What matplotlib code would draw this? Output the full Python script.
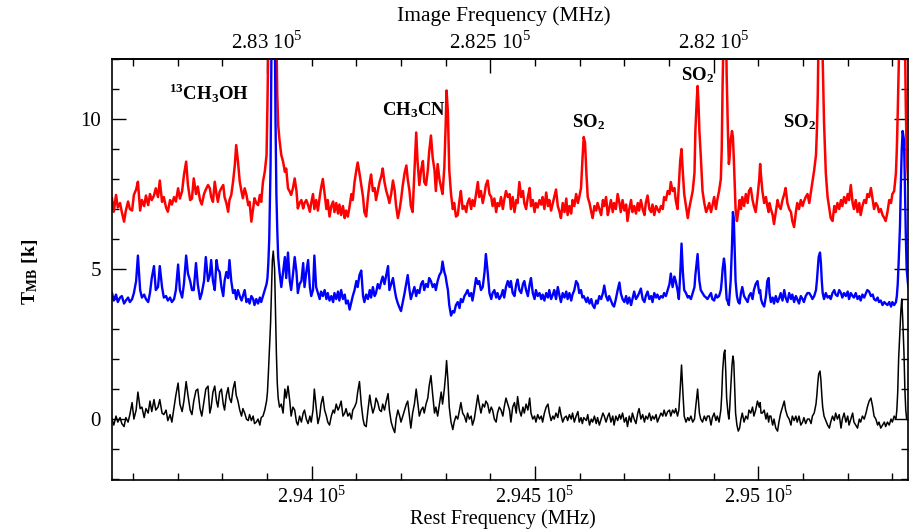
import numpy as np
import matplotlib.pyplot as plt
from matplotlib.ticker import MultipleLocator

plt.rcParams['font.family'] = 'Liberation Serif'
plt.rcParams['mathtext.fontset'] = 'custom'
plt.rcParams['mathtext.rm'] = 'Liberation Serif'
plt.rcParams['mathtext.bf'] = 'Liberation Serif:bold'

# rest frequency of each channel (MHz), shared by the three spectra
freq_mhz = [
    293553, 293557, 293562, 293566, 293571, 293575, 293580, 293584, 293589, 293593,
    293598, 293602, 293607, 293611, 293616, 293620, 293625, 293629, 293634, 293638,
    293642, 293647, 293651, 293656, 293660, 293665, 293669, 293674, 293678, 293683,
    293687, 293692, 293696, 293701, 293705, 293710, 293714, 293719, 293723, 293728,
    293732, 293736, 293741, 293745, 293750, 293754, 293759, 293763, 293768,
    293772, 293775, 293779, 293783, 293787, 293790, 293794, 293798, 293802, 293805,
    293809, 293813, 293816, 293820, 293824, 293828, 293831, 293835, 293839, 293843,
    293846, 293850, 293854, 293858, 293861, 293865, 293869, 293872, 293876, 293880,
    293884, 293887, 293891, 293895, 293899,
    293901, 293903, 293905, 293908, 293910, 293912, 293914, 293917, 293919, 293921,
    293923, 293925, 293928,
    293932, 293936, 293940, 293943, 293947, 293951, 293954, 293958, 293962, 293966,
    293969, 293973, 293977, 293981, 293984, 293988, 293992, 293996,
    293999, 294003, 294006, 294010, 294014, 294018, 294021, 294025, 294029, 294033,
    294036, 294040, 294044, 294048, 294051, 294055, 294059, 294062, 294066, 294070,
    294074, 294077, 294081, 294085, 294089, 294092, 294096, 294100, 294103, 294107,
    294111, 294115, 294118, 294122, 294126, 294130, 294133, 294137, 294141, 294144,
    294148, 294152, 294156, 294159, 294163, 294167, 294171, 294174, 294178, 294182,
    294186, 294189, 294193, 294197, 294200, 294204, 294208, 294212, 294215,
    294219, 294222, 294226, 294230, 294234, 294237, 294241, 294245, 294249, 294252,
    294256, 294260, 294263, 294267, 294271, 294275, 294278, 294282, 294286, 294290,
    294293, 294297, 294300, 294302, 294305, 294308, 294312, 294316, 294319, 294323,
    294327, 294331, 294334, 294338, 294342, 294346, 294349, 294353, 294357, 294360,
    294364, 294368, 294372, 294375, 294379, 294383, 294387, 294390, 294394, 294398,
    294402, 294405, 294409, 294413, 294416, 294420, 294424, 294428, 294431, 294435,
    294439,
    294443, 294446, 294450, 294454, 294458, 294461, 294465, 294469, 294473, 294476,
    294480, 294484, 294488, 294491, 294495, 294499, 294502, 294506, 294510, 294514,
    294517, 294521, 294525, 294529, 294532, 294536, 294540, 294543, 294547, 294551,
    294555, 294558, 294562, 294566, 294570, 294573, 294577, 294581, 294584, 294588,
    294592, 294596, 294599, 294603, 294606, 294609, 294612, 294615, 294618, 294622,
    294626, 294629, 294633, 294637, 294640, 294644, 294648, 294652, 294655, 294659,
    294663,
    294666, 294670, 294674, 294677, 294681, 294685, 294689, 294692, 294696, 294700,
    294704, 294707, 294711, 294715, 294718, 294722, 294726, 294730, 294733, 294737,
    294741, 294745, 294748, 294752, 294756, 294760, 294763, 294767, 294771, 294774,
    294778, 294782, 294786, 294789, 294793, 294797, 294801, 294804, 294808, 294812,
    294815, 294819, 294822, 294825, 294828, 294831, 294834, 294838, 294842, 294845,
    294849, 294853, 294857, 294859, 294862, 294864, 294866, 294868, 294871, 294875,
    294879, 294883, 294886,
    294890, 294894, 294897, 294901, 294905, 294908, 294912, 294916, 294918, 294920,
    294923, 294925, 294927, 294929, 294932, 294934, 294936, 294938, 294941, 294943,
    294945, 294947, 294949, 294952, 294955, 294958, 294961, 294964, 294968, 294972,
    294976, 294979, 294983, 294987, 294990, 294994, 294998, 295002, 295004, 295006,
    295009, 295013, 295017, 295020, 295023, 295025, 295028, 295032, 295035, 295039,
    295043, 295046, 295050, 295054, 295058, 295061, 295065, 295069, 295073, 295076,
    295080, 295084, 295087, 295091, 295095, 295099, 295102, 295106, 295110,
    295114, 295118, 295121, 295125, 295129, 295131, 295133, 295135, 295138, 295140,
    295142, 295144, 295147, 295151, 295155, 295159, 295162, 295166, 295170, 295173,
    295177, 295181, 295185, 295188, 295192, 295196, 295200, 295203, 295207, 295211,
    295214, 295218, 295222, 295226, 295229, 295233, 295237, 295241, 295244, 295248,
    295252, 295256, 295259, 295263, 295267, 295270, 295274, 295278, 295282, 295285,
    295289, 295293, 295297, 295300, 295304, 295308, 295310, 295312, 295314, 295317,
    295319, 295321, 295323, 295326, 295328, 295330, 295332, 295335, 295337,
]

# main-beam temperatures (K), offset spectra
tmb_red = [
    7.36, 6.91, 7.47, 7.05, 7.2, 6.9, 6.58, 6.95, 7.25, 7.0,
    6.95, 7.47, 7.65, 7.91, 6.95, 7.3, 7.1, 7.45, 7.13, 7.5,
    7.3, 7.45, 7.69, 7.4, 7.95, 7.24, 7.4, 7.05, 6.91, 7.3,
    7.15, 7.4, 7.25, 7.69, 7.35, 7.6, 8.13, 8.58, 7.8, 7.3,
    7.35, 8.02, 7.5, 7.75, 7.3, 7.15, 7.5, 7.65, 7.8,
    7.69, 7.4, 7.24, 7.91, 7.5, 7.24, 7.58, 7.7, 7.8, 7.4,
    7.2, 6.91, 7.3, 7.47, 7.91, 8.47, 9.13, 8.58, 7.91, 7.58,
    7.36, 7.69, 7.47, 7.13, 7.24, 6.58, 7.02, 7.36, 7.2, 7.13,
    7.47, 7.24, 7.91, 8.24, 8.8,
    10.5, 12.5, 15, 18, 22, 25, 25, 23, 19, 12.8,
    10.8, 9.8, 9.3,
    8.8, 8.58, 8.24, 8.35, 7.69, 7.58, 7.47, 7.69, 8.02, 7.6,
    7.02, 7.2, 7.3, 7.02, 7.2, 7.3, 7.13, 6.91,
    7.2, 7.5, 7.0, 7.3, 6.95, 7.4, 7.7, 8.0, 7.5, 7.0,
    7.3, 6.75, 7.1, 7.25, 6.9, 7.2, 6.85, 7.15, 6.8, 7.1,
    6.7, 6.95, 6.75, 7.1, 7.5, 7.3, 7.9, 8.3, 8.55, 8.2,
    7.8, 7.4, 6.9, 6.75, 7.4, 7.9, 8.15, 7.6, 7.7, 7.3,
    7.6, 7.9, 8.1, 8.35, 7.9, 7.6, 7.4, 7.2, 7.5, 7.95,
    7.6, 7.1, 6.7, 7.0, 7.3, 7.8, 8.2, 8.45, 8.0,
    7.6, 7.1, 6.9, 8.2, 9.55, 8.6, 7.8, 8.3, 8.6, 7.9,
    7.8, 8.3, 8.9, 9.45, 8.7, 8.3, 7.6, 8.5, 8.0, 7.7,
    7.5, 8.4, 9.8, 10.95, 10.2, 8.3, 7.5, 7.0, 7.2, 6.75,
    6.8, 7.3, 7.6, 7.0, 7.1, 6.9, 7.2, 7.35, 7.0, 7.3,
    7.1, 7.5, 7.9, 7.4, 7.6, 7.2, 7.5, 7.8, 7.95, 7.5,
    7.4, 7.1, 7.35, 6.9, 7.2, 7.1, 7.4, 7.0, 7.3, 7.6,
    7.4,
    7.5, 7.0, 7.4, 6.9, 7.3, 7.2, 7.9, 7.4, 7.6, 7.2,
    7.0, 7.4, 7.7, 7.1, 7.3, 6.9, 7.2, 7.05, 7.3, 7.15,
    7.4, 7.0, 7.55, 7.1, 7.3, 6.95, 7.2, 7.4, 7.65, 7.1,
    6.9, 6.7, 7.2, 6.9, 7.35, 6.8, 7.1, 6.85, 7.3, 7.1,
    7.5, 7.2, 7.4, 7.7, 8.6, 9.4, 9.2, 8.2, 7.4, 7.2,
    6.9, 6.7, 7.1, 6.95, 7.2, 7.0, 6.8, 7.3, 7.1, 7.4,
    6.8,
    7.0, 7.3, 6.9, 7.2, 7.0, 7.5, 7.2, 6.9, 7.3, 6.95,
    7.15, 6.6, 7.0, 7.3, 6.9, 7.1, 6.85, 7.2, 6.95, 7.3,
    7.0, 6.8, 7.2, 7.45, 7.0, 6.9, 7.15, 6.8, 7.1, 7.0,
    6.9, 7.1, 7.0, 7.4, 7.3, 7.6, 7.5, 7.9, 7.6, 7.7,
    7.3, 7.0, 7.8, 8.6, 9.0, 8.2, 7.5, 7.1, 6.7, 7.0,
    7.3, 7.6, 8.2, 9.6, 10.6, 11.1, 10.5, 9.6, 8.8, 7.6,
    7.2, 6.9, 7.0,
    7.2, 6.9, 7.1, 7.4, 7.0, 7.3, 7.6, 8.0, 9.0, 11.2,
    13.5, 16, 14, 11.5, 9.5, 8.5, 8.8, 9.3, 9.6, 9.4,
    8.7, 7.8, 7.0, 6.6, 6.9, 7.3, 7.0, 7.4, 7.1, 7.5,
    7.2, 7.6, 7.7, 7.3, 7.1, 6.9, 7.4, 8.0, 8.5, 8.1,
    7.6, 7.2, 7.4, 7.1, 6.9, 7.2, 7.0, 6.8, 6.5, 6.9,
    7.3, 7.1, 7.0, 7.3, 7.5, 7.7, 7.2, 7.0, 6.9, 6.6,
    6.4, 6.9, 7.2, 7.0, 7.3, 7.1, 7.25, 7.4, 7.5,
    7.2, 7.6, 7.9, 8.3, 8.8, 9.6, 10.8, 13, 17, 18,
    15, 12, 9.9, 8.2, 7.4, 7.0, 6.7, 6.6, 7.1, 6.9,
    7.2, 7.0, 7.3, 7.1, 7.4, 7.2, 7.5, 7.3, 7.8, 7.2,
    7.0, 7.3, 6.9, 7.2, 6.8, 7.1, 7.3, 7.2, 7.5, 7.4,
    7.7, 7.3, 7.0, 7.2, 7.1, 6.9, 7.0, 6.8, 6.7, 6.6,
    6.9, 7.3, 7.2, 7.5, 7.6, 8.2, 9.0, 10.2, 11.6, 13.5,
    16, 19, 20, 17, 13, 10.5, 8.8, 8.0, 7.8,
]

tmb_blue = [
    4.2, 3.95, 4.15, 3.9, 4.05, 4.1, 3.85, 3.95, 4.05, 3.9,
    4.0, 4.2, 4.6, 5.45, 4.3, 4.05, 4.15, 4.0, 3.9, 4.2,
    4.7, 5.1, 4.3, 4.4, 5.1, 4.4, 4.05, 4.1, 3.95, 4.05,
    3.9, 4.0, 4.3, 5.15, 4.3, 4.05, 4.5, 5.45, 4.85, 4.6,
    4.3, 4.3, 5.2, 4.5, 4.0, 4.2, 4.6, 5.4, 4.6,
    4.8, 5.3, 4.6, 4.3, 5.3, 5.0, 4.9, 4.4, 4.1, 4.6,
    4.9, 4.7, 5.3, 4.6, 4.2, 4.3, 4.0, 4.3, 4.1, 3.95,
    4.1, 4.3, 3.9, 4.0, 3.85, 4.1, 4.0, 3.8, 4.0, 3.85,
    4.05, 3.9, 4.1, 4.3, 4.5,
    4.7, 5.2, 6.0, 8.5, 12.5, 16, 18, 14, 10, 7.5,
    6.3, 5.4, 4.9,
    4.4, 4.9, 5.4, 4.7, 5.55, 4.6, 4.3, 4.8, 5.4, 4.9,
    4.2, 4.5, 4.6, 5.2, 4.4, 4.9, 5.3, 4.4,
    4.1, 4.3, 5.45, 4.4, 4.2, 4.0, 4.25, 4.1, 4.3, 4.0,
    4.2, 3.95, 4.1, 3.9, 4.2, 4.0, 4.25, 3.95, 4.3, 4.0,
    4.15, 3.85, 3.95, 3.65, 3.9, 4.1, 4.3, 4.6, 4.4, 4.8,
    4.95, 4.1, 3.9, 4.15, 4.0, 4.3, 4.05, 4.4, 4.1, 4.2,
    4.5, 4.35, 4.6, 4.75, 4.5, 4.8, 5.1, 4.3, 4.5, 4.7,
    4.3, 4.05, 3.85, 3.7, 3.6, 3.9, 4.2, 4.55, 4.8,
    4.3, 4.0, 4.2, 4.4, 4.1, 4.3, 4.2, 4.5, 4.6, 4.3,
    4.5, 4.4, 4.7, 4.6, 4.4, 4.5, 4.3, 4.6, 4.8, 4.9,
    5.25, 4.9, 4.75, 4.55, 4.3, 3.8, 3.45, 3.6, 3.55, 3.8,
    3.9, 3.7, 4.0, 3.9, 4.1, 4.2, 4.3, 4.1, 4.2, 3.95,
    4.3, 4.7, 4.5, 4.6, 4.3, 4.4, 4.9, 5.5, 4.9, 4.2,
    4.0, 4.2, 4.3, 4.05, 4.2, 4.0, 4.1, 4.3, 4.05, 4.4,
    4.6,
    4.4, 4.6, 4.2, 4.1, 4.5, 4.65, 4.3, 4.2, 4.5, 4.6,
    4.3, 4.1, 4.5, 4.7, 4.2, 4.0, 4.3, 4.1, 4.2, 4.0,
    4.15, 3.95, 4.2, 4.05, 4.3, 4.0, 4.15, 4.3, 4.0, 4.4,
    4.1, 3.9, 4.2, 4.05, 4.25, 4.0, 4.2, 3.95, 4.15, 4.3,
    4.6, 4.5, 4.2, 4.3, 4.05, 4.1, 4.0, 3.9, 4.05, 3.85,
    4.0, 3.8, 3.7, 3.95, 3.85, 4.1, 4.0, 4.2, 4.45, 4.1,
    3.95,
    4.1, 3.95, 3.8, 3.75, 4.0, 4.3, 4.55, 4.2, 4.0, 3.9,
    4.1, 3.85, 4.05, 3.8, 4.0, 4.25, 4.0, 4.1, 4.2, 4.35,
    4.0, 3.9, 4.1, 4.25, 4.0, 4.1, 3.9, 4.2, 4.05, 4.15,
    4.0, 4.1, 4.05, 4.2, 4.1, 4.3, 4.5, 4.85, 4.4, 4.75,
    4.6, 4.3, 4.0, 4.8, 5.85, 4.9, 4.3, 4.2, 4.05, 4.1,
    4.0, 4.2, 4.4, 4.8, 5.2, 5.5, 5.0, 4.6, 4.3, 4.2,
    4.1, 4.05, 4.0,
    4.1, 4.2, 4.0, 3.95, 4.15, 4.05, 4.1, 4.3, 4.6, 5.0,
    5.35, 5.1, 4.5, 4.0, 3.9, 3.8, 4.2, 4.6, 5.8, 6.9,
    6.7, 5.6, 4.6, 4.1, 3.9, 3.85, 4.2, 4.4, 4.1, 4.0,
    3.9, 4.1, 4.2, 4.0, 4.3, 4.5, 4.6, 4.2, 4.3, 4.0,
    3.85, 3.75, 4.1, 4.6, 4.7, 4.2, 3.9, 4.05, 3.85, 4.1,
    3.9, 4.0, 4.2, 3.95, 4.3, 4.05, 3.9, 4.2, 4.0, 4.15,
    3.9, 4.1, 4.0, 3.85, 4.1, 4.0, 3.9, 4.1, 4.2,
    4.2, 4.1, 4.0, 4.1, 4.3, 4.6, 5.0, 5.4, 5.55, 5.2,
    4.6, 4.2, 4.0, 4.2, 4.05, 4.1, 4.0, 4.2, 4.3, 4.15,
    4.1, 4.3, 4.2, 4.05, 4.2, 4.1, 4.25, 4.0, 4.2, 4.1,
    4.05, 4.2, 4.0, 4.1, 3.95, 4.15, 4.05, 4.2, 4.3, 4.25,
    4.1, 4.15, 4.0, 3.95, 4.05, 3.9, 3.95, 3.8, 3.9, 3.85,
    3.8, 3.9, 3.75, 3.9, 3.8, 3.9, 4.1, 4.5, 5.2, 6.4,
    7.8, 9.0, 9.6, 9.3, 7.9, 6.2, 5.0, 4.5, 4.35,
]

tmb_black = [
    0.0, -0.2, 0.1, -0.1, 0.05, -0.15, -0.25, 0.05, -0.1, 0.15,
    0.55, 0.0, 0.3, 0.9, 0.35, 0.4, 0.05, 0.35, 0.2, 0.6,
    0.25, 0.65, 0.3, 0.4, 0.65, 0.2, 0.15, 0.3, -0.05, 0.15,
    -0.1, 0.4, 0.8, 1.2, 0.5, 0.25, 0.6, 1.25, 0.8, 0.3,
    0.15, 0.6, 0.95, 1.0, 0.35, 0.1, 0.6, 1.0, 1.1,
    0.2, 0.4, 0.9, 1.1, 0.6, 0.4, 0.9, 1.0, 0.5, 0.3,
    0.8, 1.05, 0.7, 0.55, 1.0, 1.25, 0.8, 0.6, 0.3, 0.1,
    0.35, 0.2, 0.0, -0.05, 0.15, -0.05, 0.1, -0.15, -0.1, 0.0,
    -0.2, 0.05, 0.1, 0.3, 0.6,
    0.9, 1.5, 2.2, 3.2, 4.3, 5.3, 5.6, 5.0, 3.6, 2.2,
    1.2, 0.7, 0.4,
    0.5, 0.2, 1.0, 0.7, 1.1, 0.6, 0.1, 0.4, 0.3, -0.1,
    -0.2, 0.1, -0.1, 0.2, 0.3, 0.0, -0.15, 0.1,
    -0.1, 0.3, 1.0, 0.4, -0.15, 0.1, 0.5, 0.75, 0.3, 0.1,
    -0.1, -0.2, 0.1, 0.3, 0.2, 0.5, 0.3, 0.4, 0.6, 0.1,
    0.2, 0.35, 0.1, 0.2, 0.0, 0.3, 0.4, 0.55, 0.9, 1.25,
    0.5, 0.0, -0.2, -0.25, 0.3, 0.8, 0.5, 0.2, 0.4, 0.7,
    0.55, 0.3, 0.25, 0.5, 0.3, 0.6, 0.85, 0.3, -0.1, -0.3,
    -0.45, 0.0, 0.3, 0.1, -0.1, 0.1, 0.3, 0.5, 0.6,
    0.1, -0.3, 0.2, 0.5, 1.0, 0.6, 0.1, 0.3, 0.4, 0.2,
    0.5, 0.7, 1.1, 1.45, 0.8, 0.2, 0.4, 0.1, 0.5, 0.9,
    0.5, 1.0, 1.5, 1.95, 1.3, 0.4, -0.1, -0.35, -0.1, 0.1,
    0.0, 0.3, 0.55, 0.2, 0.1, -0.1, 0.2, 0.0, 0.1, -0.2,
    0.0, 0.4, 0.8, 0.5, 0.2, 0.5, 0.4, 0.6, 0.5, 0.2,
    0.4, 0.3, 0.0, -0.1, 0.2, 0.4, 0.3, 0.1, 0.4, 0.7,
    0.5,
    0.3, -0.1, 0.4, 0.55, 0.2, 0.75, 0.3, 0.1, 0.4, 0.2,
    0.5, 0.3, 0.7, 0.2, 0.0, 0.1, -0.1, 0.15, 0.0, 0.1,
    -0.1, 0.2, 0.4, 0.5, 0.2, -0.05, 0.1, 0.0, 0.2, 0.05,
    0.4, 0.15, -0.1, 0.05, 0.1, -0.05, 0.15, 0.0, 0.2, -0.1,
    0.1, 0.25, -0.1, 0.05, -0.15, 0.05, 0.0, -0.05, 0.15, -0.2,
    0.0, -0.1, 0.1, -0.15, 0.05, -0.2, 0.0, 0.2, 0.1, -0.1,
    0.1,
    0.2, -0.1, 0.1, -0.2, 0.1, -0.05, 0.15, 0.0, 0.2, -0.1,
    0.05, -0.25, 0.1, -0.1, 0.2, 0.0, -0.15, 0.2, 0.35, 0.0,
    0.15, -0.1, 0.1, 0.0, 0.2, -0.05, 0.1, 0.0, 0.15, -0.1,
    0.05, 0.2, 0.1, 0.3, 0.1, 0.25, 0.3, 0.1, 0.3, 0.2,
    0.35, 0.1, 0.3, 1.0, 1.8, 0.9, 0.1, -0.1, 0.05, -0.05,
    0.1, -0.1, 0.0, 0.3, 0.7, 1.0, 0.6, 0.2, 0.0, -0.1,
    0.1, -0.05, 0.1,
    0.1, -0.2, 0.05, 0.2, -0.05, 0.1, -0.1, 0.3, 0.8, 1.6,
    2.2, 2.3, 1.6, 0.7, 0.2, 0.0, 0.4, 1.0, 1.8, 2.1,
    1.9, 1.0, 0.2, -0.2, -0.4, -0.3, 0.0, 0.2, -0.1, 0.1,
    0.0, 0.3, 0.2, 0.4, 0.1, 0.3, 0.6, 0.4, 0.55, 0.2,
    0.2, 0.3, 0.0, 0.2, -0.1, 0.1, 0.1, -0.2, 0.0, -0.3,
    -0.4, -0.1, 0.2, 0.4, 0.6, 0.3, 0.1, 0.0, -0.2, 0.1,
    -0.05, 0.1, -0.1, 0.1, -0.2, -0.1, 0.05, -0.15, 0.0,
    0.0, -0.15, 0.1, 0.2, 0.5, 0.8, 1.2, 1.5, 1.6, 1.3,
    0.8, 0.4, 0.1, -0.05, -0.2, -0.3, -0.1, 0.1, -0.05, 0.2,
    0.0, 0.15, -0.3, 0.0, 0.2, -0.1, 0.1, -0.2, 0.0, 0.2,
    -0.1, -0.2, -0.3, 0.0, -0.1, 0.1, 0.0, 0.2, 0.4, 0.6,
    0.7, 0.4, 0.1, 0.0, -0.2, -0.1, -0.3, -0.2, -0.1, -0.25,
    -0.1, -0.2, 0.0, -0.1, 0.1, 0.0, 0.3, 0.9, 2.0, 3.0,
    3.6, 4.0, 3.4, 2.2, 1.0, 0.3, 0.0, -0.05, 0.0,
]

# axis ticks
rest_ticks = [294000, 294500, 295000]
rest_tick_labels = ['2.94', '2.945', '2.95']
image_ticks = [283000, 282500, 282000]
image_tick_labels = ['2.83', '2.825', '2.82']
lo_twice = 576900  # image frequency = 2 LO - rest frequency

# line identifications
line_names = [r'$^{\mathbf{13}}\mathbf{CH_3OH}$', r'$\mathbf{CH_3CN}$',
              r'$\mathbf{SO_2}$', r'$\mathbf{SO_2}$', r'$\mathbf{SO_2}$']
line_freq = [293770, 294230, 294620, 294864, 295092]
line_tmb = [10.63, 10.13, 9.73, 11.3, 9.73]

fig = plt.figure(figsize=(9.1, 5.29), dpi=100)
ax = fig.add_axes([112 / 910, 1 - 480 / 529, 796 / 910, 421 / 529])

ax.plot(freq_mhz, tmb_red, color='red', lw=1.8)
ax.plot(freq_mhz, tmb_blue, color='blue', lw=1.7)
ax.plot(freq_mhz, tmb_black, color='black', lw=1.1)

for name, f, t in zip(line_names, line_freq, line_tmb):
    ax.text(f, t, name, ha='center', va='baseline', fontsize=13.5)

ax.set_xlim(293553, 295335)
ax.set_ylim(-2.03, 12)

ax.set_xticks(rest_ticks)
ax.set_xticklabels([s + r' $\mathrm{10}^{\mathrm{5}}$' for s in rest_tick_labels])
ax.xaxis.set_minor_locator(MultipleLocator(100))
ax.set_yticks([0, 5, 10])
ax.yaxis.set_minor_locator(MultipleLocator(1))
ax.tick_params(which='both', direction='in', top=False, right=True, labelsize=15, width=1)
ax.tick_params(which='major', length=10)
ax.tick_params(which='minor', length=5)
ax.tick_params(axis='x', pad=4, labelsize=14.5)
ax.tick_params(axis='y', pad=8)
for sp in ax.spines.values():
    sp.set_linewidth(1.2)

sec = ax.secondary_xaxis('top', functions=(lambda f: lo_twice - f, lambda g: lo_twice - g))
sec.set_xticks(image_ticks, labels=[s + r' $\mathrm{10}^{\mathrm{5}}$' for s in image_tick_labels])
sec.xaxis.set_minor_locator(MultipleLocator(100))
sec.tick_params(which='both', direction='in', labelsize=15, width=1, pad=4)
sec.tick_params(which='major', length=10)
sec.tick_params(which='minor', length=5)
sec.spines['top'].set_linewidth(1.2)

fig.text(503 / 910, 1 - 519 / 529, 'Rest Frequency (MHz)', ha='center', va='center', fontsize=14.5)
fig.text(504 / 910, 1 - 16 / 529, 'Image Frequency (MHz)', ha='center', va='center', fontsize=15.5)
fig.text(30 / 910, 1 - 272 / 529, r'$\mathbf{T_{MB}\ [k]}$', rotation=90,
         ha='center', va='center', fontsize=14)

fig.savefig('out.png', dpi=100)
